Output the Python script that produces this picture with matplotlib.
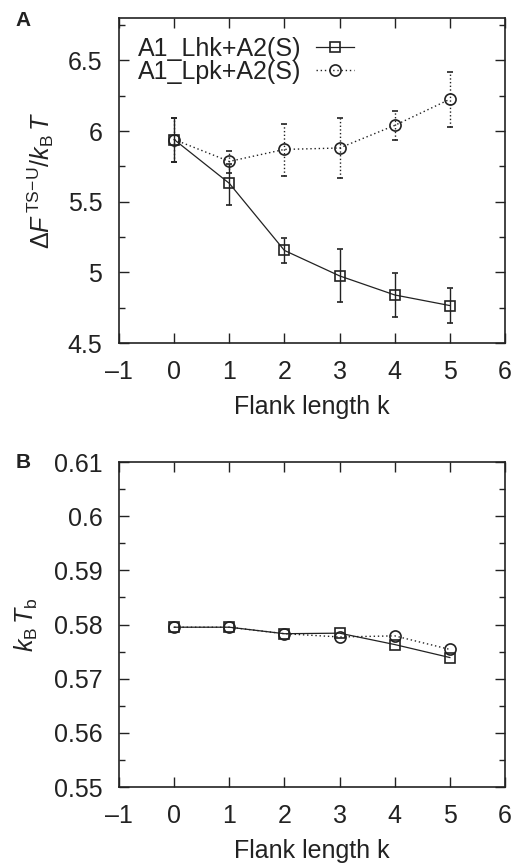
import matplotlib
matplotlib.use("Agg")
from matplotlib import pyplot as plt
from matplotlib.ticker import MultipleLocator, FuncFormatter
from matplotlib.lines import Line2D
import numpy as np

plt.rcParams['font.family'] = ['Liberation Sans', 'DejaVu Sans']
plt.rcParams['mathtext.fontset'] = 'custom'
plt.rcParams['mathtext.rm'] = 'Liberation Sans'
plt.rcParams['mathtext.it'] = 'Liberation Sans:italic'
plt.rcParams['font.size'] = 18

k = [0, 1, 2, 3, 4, 5]

# panel A: barrier height with error bars
lhk_dF = [5.94, 5.63, 5.155, 4.975, 4.84, 4.765]
lhk_lo = [5.78, 5.48, 5.065, 4.79, 4.685, 4.64]
lhk_hi = [6.09, 5.77, 5.245, 5.165, 4.995, 4.89]
lpk_dF = [5.94, 5.785, 5.87, 5.88, 6.04, 6.225]
lpk_lo = [5.78, 5.70, 5.685, 5.67, 5.935, 6.03]
lpk_hi = [6.09, 5.86, 6.05, 6.09, 6.145, 6.42]

# panel B: transition temperature
lhk_T = [0.5795, 0.5795, 0.5783, 0.5784, 0.5763, 0.5739]
lpk_T = [0.5795, 0.5795, 0.5783, 0.5777, 0.5779, 0.5754]

labels = ['A1_Lhk+A2(S)', 'A1_Lpk+A2(S)']
col = '#222222'
dot = (0, (1, 2))
sq = dict(marker='s', ms=7.5, mfc='none', mew=1.2)
ci = dict(marker='o', ms=8, mfc='none', mew=1.2)

fig = plt.figure(figsize=(5.22, 8.63), dpi=100)
ax1 = fig.add_axes([119/522, 1 - 343/863, 386/522, 325/863])
ax2 = fig.add_axes([119/522, 1 - 787/863, 386/522, 325/863])

fmt = FuncFormatter(lambda v, p: ('%g' % v).replace('-', '\u2013'))

def style(ax):
    ax.set_xlim(-1, 6)
    ax.xaxis.set_major_locator(MultipleLocator(1))
    ax.xaxis.set_major_formatter(fmt)
    ax.yaxis.set_major_formatter(fmt)
    ax.tick_params(which='both', direction='in', top=True, right=True,
                   color=col, labelcolor=col)
    ax.tick_params(which='major', length=7, width=1, pad=12)
    ax.tick_params(which='minor', length=4, width=1)
    ax.tick_params(axis='x', which='minor', top=False, bottom=False)
    for s in ax.spines.values():
        s.set_linewidth(1.2)
        s.set_color(col)
    ax.set_xlabel('Flank length k', color=col, labelpad=8)

# A
err_h = [np.array(lhk_dF) - np.array(lhk_lo), np.array(lhk_hi) - np.array(lhk_dF)]
err_p = [np.array(lpk_dF) - np.array(lpk_lo), np.array(lpk_hi) - np.array(lpk_dF)]
eb = ax1.errorbar(k, lpk_dF, yerr=err_p, color=col, ls=dot, lw=1,
                  capsize=2, elinewidth=1, **ci)
eb[-1][0].set_linestyle(':')
ax1.errorbar(k, lhk_dF, yerr=err_h, color=col, ls='-', lw=0.9,
             capsize=2, elinewidth=1, **sq)
ax1.set_ylim(4.5, 6.8)
ax1.yaxis.set_major_locator(MultipleLocator(0.5))
ax1.yaxis.set_minor_locator(MultipleLocator(0.25))
style(ax1)
ax1.set_ylabel(r'$\Delta F^{\,\mathrm{TS\!-\!U}}/k_\mathrm{B}\,T$', color=col, labelpad=8)
handles = [Line2D([], [], color=col, ls='-', lw=0.9, **sq),
           Line2D([], [], color=col, ls=dot, lw=1, **ci)]
leg = ax1.legend(handles, labels, loc='upper left', frameon=False, markerfirst=False,
                 handlelength=1.5, handletextpad=0.6, labelspacing=-0.04,
                 borderaxespad=0.45, borderpad=0.3, fontsize=18)
for t in leg.get_texts():
    t.set_color(col)

# B
ax2.plot(k, lpk_T, color=col, ls=dot, lw=1, **ci)
ax2.plot(k, lhk_T, color=col, ls='-', lw=0.9, **sq)
ax2.set_ylim(0.55, 0.61)
ax2.yaxis.set_major_locator(MultipleLocator(0.01))
ax2.yaxis.set_minor_locator(MultipleLocator(0.005))
style(ax2)
ax2.set_ylabel(r'$k_\mathrm{B}\,T_\mathrm{b}$', color=col, labelpad=10)

fig.text(15/522, 1 - 21/863, 'A', fontsize=15, fontweight='bold', color=col, va='center')
fig.text(16/522, 1 - 462/863, 'B', fontsize=15, fontweight='bold', color=col, va='center')

fig.savefig('out.png', dpi=100)
